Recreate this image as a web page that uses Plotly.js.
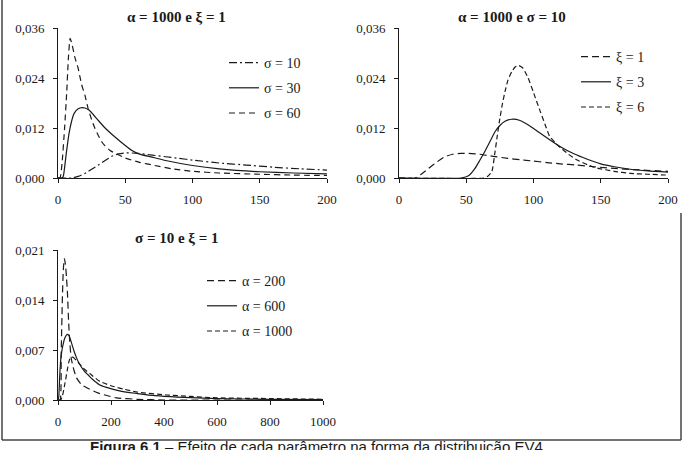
<!DOCTYPE html>
<html>
<head>
<meta charset="utf-8">
<script src="https://cdn.plot.ly/plotly-3.0.1.min.js"></script>
<style>
html,body{margin:0;padding:0;background:#fff;}
#chart{width:686px;height:450px;}
</style>
</head>
<body>
<div id="chart"></div>
<script>
// ---- Chart 1: alpha = 1000, xi = 1 ----
const xS10 = [0,10,15,20,25,30,35,40,45,50,55,60,70,80,90,100,120,140,160,180,200];
const yS10 = [0,0,0.0004,0.0011,0.0021,0.0031,0.0042,0.0052,0.0058,0.0060,0.0060,0.0059,0.0055,0.0051,0.0047,0.0043,0.0036,0.0031,0.0026,0.0022,0.0019];
const xS30 = [0,3,4,6,8,10,12,15,18,20,23,26,30,35,40,47,55,60,70,80,100,120,150,175,200];
const yS30 = [0,0,0.0005,0.0055,0.0103,0.0135,0.0155,0.0166,0.0169,0.0168,0.0163,0.0153,0.0138,0.0120,0.0105,0.0086,0.0066,0.0058,0.0050,0.0042,0.0030,0.0022,0.0015,0.0012,0.0010];
const xS60 = [0,1.5,3,5,6.5,7.7,9,10.5,12.5,15,17.5,20,22.5,25,27.5,30,32.5,35,38.7,44,50,60,72,85,100,120,150,175,200];
const yS60 = [0,0,0.0035,0.0125,0.0207,0.0287,0.0335,0.0320,0.0290,0.0263,0.0225,0.0199,0.0165,0.0140,0.0119,0.0102,0.0087,0.0077,0.0066,0.0057,0.0048,0.0038,0.0030,0.0022,0.0016,0.0012,0.0009,0.0007,0.0006];

// ---- Chart 2: alpha = 1000, sigma = 10 ----
const xX1 = [0,12,16,22,28,34,40,46,52,60,70,81,90,99,110,120,132,145,160,175,200];
const yX1 = [0,0,0.0008,0.0023,0.0038,0.0051,0.0057,0.0059,0.0059,0.0057,0.0052,0.0047,0.0044,0.0041,0.0037,0.0034,0.0031,0.0027,0.0023,0.0020,0.0016];
const xX3 = [0,46,52,56.5,60,64,68,71.4,75,78.8,83.8,90,96.2,104,112,120,130,140,150,160,172,185,200];
const yX3 = [0,0,0.0006,0.0023,0.0042,0.0065,0.0090,0.0111,0.0126,0.0136,0.0141,0.0138,0.0127,0.0110,0.0092,0.0075,0.0058,0.0045,0.0034,0.0027,0.0021,0.0017,0.0014];
const xX6 = [0,63,66,69,71.4,73,75,77,79,81,84,86.5,89,92,96,100,105,109,112,116,120,126,132,140,147,160,172,185,200];
const yX6 = [0,0,0.0004,0.0015,0.0063,0.0100,0.0143,0.0180,0.0210,0.0235,0.0256,0.0267,0.0270,0.0264,0.0240,0.0205,0.0160,0.0125,0.0100,0.0085,0.0073,0.0057,0.0044,0.0032,0.0024,0.0016,0.0011,0.0009,0.0007];

// ---- Chart 3: sigma = 10, xi = 1 ----
const xA200 = [0,8,12,16,20,24,28,32,36,40,45,50,60,70,90,114,150,177,220,300,400,600,800,1000];
const yA200 = [0,0,0.0065,0.0135,0.0182,0.0198,0.0190,0.0172,0.0147,0.0110,0.0078,0.0058,0.0042,0.0031,0.0021,0.0016,0.0010,0.0007,0.0003,0.0001,0,0,0,0];
const xA600 = [0,3,6,10,15,20,25,30,35,40,45,50,60,70,80,100,114,130,158,180,240,300,366,450,600,800,1000];
const yA600 = [0,0.0005,0.003,0.0055,0.0070,0.0079,0.0086,0.0090,0.0092,0.0091,0.0087,0.0081,0.0069,0.0059,0.0051,0.0040,0.0035,0.0029,0.0021,0.0018,0.0012,0.0009,0.0006,0.0004,0.0002,0.0001,0.00005];
const xA1000 = [0,10,15,20,25,30,35,40,45,50,55,60,70,80,100,120,158,200,250,300,410,500,600,800,1000];
const yA1000 = [0,0,0.0004,0.0011,0.0021,0.0031,0.0042,0.0052,0.0058,0.0060,0.0060,0.0059,0.0055,0.0051,0.0043,0.0037,0.0026,0.0020,0.0015,0.0011,0.0007,0.0005,0.0003,0.0002,0.0001];

const titles = ['α = 1000 e ξ = 1', 'α = 1000 e σ = 10', 'σ = 10 e ξ = 1'];
const names1 = ['σ = 10', 'σ = 30', 'σ = 60'];
const names2 = ['ξ = 1', 'ξ = 3', 'ξ = 6'];
const names3 = ['α = 200', 'α = 600', 'α = 1000'];
const caption = '<b>Figura 6.1</b> – Efeito de cada parâmetro na forma da distribuição EV4';

const INK = '#1a1a1a';
function tr(x, y, name, dash, xa, ya, leg, grp) {
  return {x: x, y: y, name: name, type: 'scatter', mode: 'lines',
    line: {color: INK, width: 1.2, dash: dash, shape: 'spline', smoothing: 0.5},
    xaxis: xa, yaxis: ya, legend: leg, legendgroup: grp, hoverinfo: 'skip'};
}
const DD = '8px,3px,2px,3px';
const DA = '6px,4px';
const DL = '7px,4px';
const DS = '5px,3px';

const data = [
  tr(xS10, yS10, names1[0], DD, 'x', 'y', 'legend', 'a1'),
  tr(xS30, yS30, names1[1], 'solid', 'x', 'y', 'legend', 'a2'),
  tr(xS60, yS60, names1[2], DA, 'x', 'y', 'legend', 'a3'),
  tr(xX1, yX1, names2[0], DL, 'x2', 'y2', 'legend2', 'b1'),
  tr(xX3, yX3, names2[1], 'solid', 'x2', 'y2', 'legend2', 'b2'),
  tr(xX6, yX6, names2[2], DS, 'x2', 'y2', 'legend2', 'b3'),
  tr(xA200, yA200, names3[0], DL, 'x3', 'y3', 'legend3', 'c1'),
  tr(xA600, yA600, names3[1], 'solid', 'x3', 'y3', 'legend3', 'c2'),
  tr(xA1000, yA1000, names3[2], DS, 'x3', 'y3', 'legend3', 'c3')
];

const W = 686, H = 450;
const px = v => v / W;
const py = v => 1 - v / H;
const tickFont = {family: 'Liberation Serif, Times New Roman, serif', size: 13, color: INK};
function xax(dom, range, dtick, anchor) {
  return {domain: dom, range: range, dtick: dtick, tick0: 0, anchor: anchor,
    showline: true, linecolor: INK, linewidth: 1, ticks: 'outside', ticklen: 4, tickcolor: INK,
    showgrid: false, zeroline: false, tickfont: tickFont, ticklabelstandoff: 5, fixedrange: true};
}
function yax(dom, range, dtick, anchor) {
  return {domain: dom, range: range, dtick: dtick, tick0: 0, anchor: anchor, tickformat: '.3f',
    showline: true, linecolor: INK, linewidth: 1, ticks: 'outside', ticklen: 4, tickcolor: INK,
    showgrid: false, zeroline: false, tickfont: tickFont, ticklabelstandoff: 6, fixedrange: true};
}
const legFont = {family: 'Liberation Serif, Times New Roman, serif', size: 14, color: INK};
function leg(x, y) {
  return {x: x, y: y, xanchor: 'left', yanchor: 'top', bgcolor: 'rgba(0,0,0,0)', borderwidth: 0,
    font: legFont, tracegroupgap: 4, traceorder: 'grouped', itemclick: false, itemdoubleclick: false};
}
const titleFont = {family: 'Liberation Serif, Times New Roman, serif', size: 15, color: INK};
function ann(text, x, y, font) {
  return {text: text, x: x, y: y, xref: 'paper', yref: 'paper', xanchor: 'center', yanchor: 'middle',
    showarrow: false, font: font};
}

const layout = {
  width: W, height: H, margin: {l: 0, r: 0, t: 0, b: 0},
  paper_bgcolor: '#fff', plot_bgcolor: '#fff', separators: ',.',
  showlegend: true,
  xaxis: xax([px(58), px(327)], [0, 200], 50, 'y'),
  yaxis: yax([py(178), py(28)], [0, 0.036], 0.012, 'x'),
  xaxis2: xax([px(399), px(668)], [0, 200], 50, 'y2'),
  yaxis2: yax([py(178), py(28)], [0, 0.036], 0.012, 'x2'),
  xaxis3: xax([px(58), px(323)], [0, 1000], 200, 'y3'),
  yaxis3: yax([py(400), py(250)], [0, 0.021], 0.007, 'x3'),
  legend: leg(px(224), py(47)),
  legend2: leg(px(576), py(41)),
  legend3: leg(px(202), py(265)),
  annotations: [
    ann('<b>' + titles[0] + '</b>', px(176), py(17), titleFont),
    ann('<b>' + titles[1] + '</b>', px(512), py(17), titleFont),
    ann('<b>' + titles[2] + '</b>', px(177), py(238), titleFont),
    {text: caption, x: px(88), y: py(446.5), xref: 'paper', yref: 'paper', xanchor: 'left', yanchor: 'middle',
      showarrow: false, font: {family: 'Liberation Sans, Arial, sans-serif', size: 15, color: INK}}
  ],
  shapes: [
    {type: 'line', xref: 'paper', yref: 'paper', x0: px(2), x1: px(2), y0: py(-5), y1: py(440), line: {color: '#444', width: 1.5}},
    {type: 'line', xref: 'paper', yref: 'paper', x0: px(2), x1: px(681), y0: py(440), y1: py(440), line: {color: '#444', width: 1.5}},
    {type: 'line', xref: 'paper', yref: 'paper', x0: px(681), x1: px(681), y0: py(213), y1: py(440), line: {color: '#444', width: 1.5}}
  ]
};

Plotly.newPlot('chart', data, layout, {displayModeBar: false, staticPlot: true});
</script>
</body>
</html>
